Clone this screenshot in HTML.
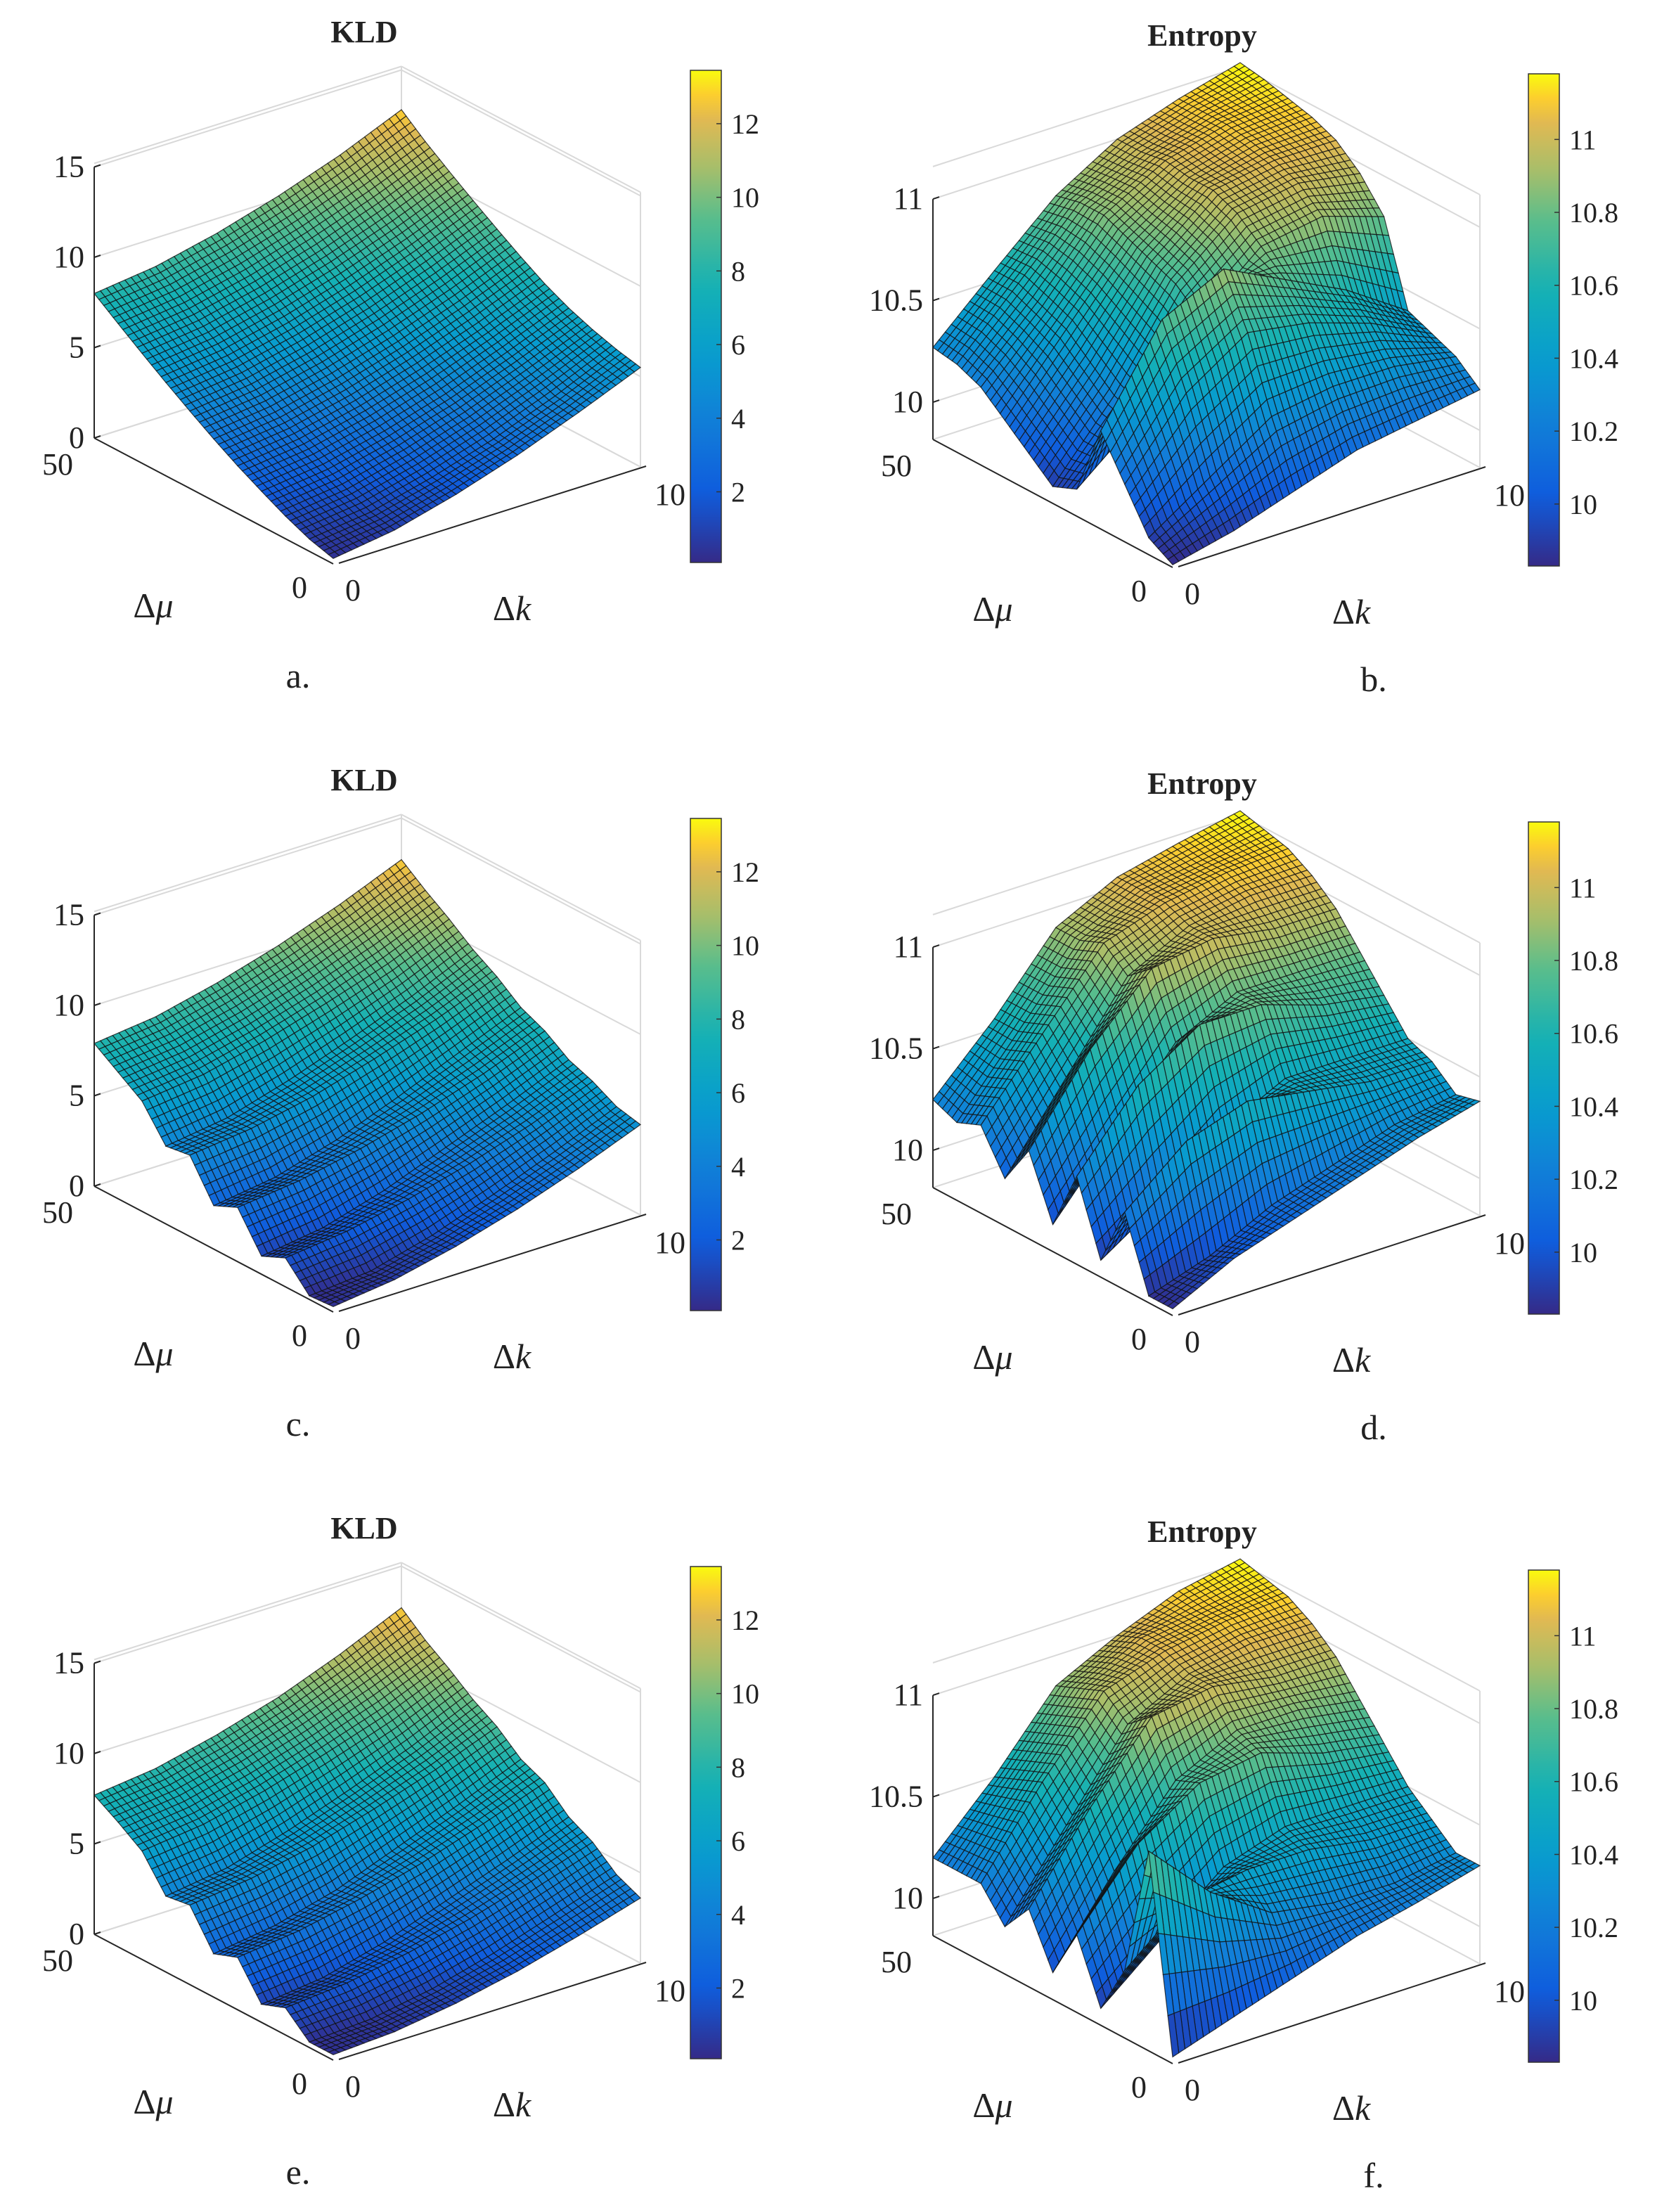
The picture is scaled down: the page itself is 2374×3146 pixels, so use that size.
<!DOCTYPE html>
<html><head><meta charset="utf-8">
<style>
html,body{margin:0;padding:0;background:#fff;}
svg{display:block;}
text{font-family:"Liberation Serif",serif;fill:#222;}
</style></head>
<body>
<svg id="chart" width="2374" height="3146" viewBox="0 0 2374 3146" xmlns="http://www.w3.org/2000/svg"></svg>
<script>
// ---- data (rows: Δμ = 0,5,...,50 ; columns: Δk = 0,2,...,10) ----
const muVals = [0,5,10,15,20,25,30,35,40,45,50];
const kVals = [0,2,4,6,8,10];
const kldA = [
[0.3,0.8,1.7,2.8,4.1,5.5],
[0.68,1.1,1.95,3.0,4.3,5.8],
[1.25,1.67,2.5,3.55,4.8,6.2],
[1.93,2.35,3.12,4.11,5.35,6.7],
[2.64,3.06,3.83,4.82,6.0,7.34],
[3.43,3.85,4.62,5.61,6.79,8.13],
[4.28,4.7,5.47,6.46,7.64,8.98],
[5.16,5.58,6.35,7.34,8.52,9.86],
[6.08,6.5,7.27,8.26,9.44,10.78],
[7.03,7.45,8.22,9.21,10.39,11.73],
[8.0,8.42,9.19,10.18,11.36,12.8]];
const kldC = [
[0.3,0.72,1.49,2.48,3.66,5.0],
[0.2,0.5,1.4,2.6,3.9,5.3],
[1.6,2.0,2.7,3.6,4.7,6.0],
[1.0,1.5,2.5,3.8,5.1,6.5],
[3.0,3.4,4.1,5.0,6.1,7.4],
[2.4,2.9,3.9,5.2,6.6,8.0],
[4.5,4.9,5.6,6.6,7.7,9.0],
[4.3,4.8,5.8,7.0,8.3,9.8],
[6.1,6.5,7.3,8.3,9.4,10.8],
[7.0,7.4,8.2,9.2,10.4,11.7],
[7.9,8.3,9.1,10.1,11.3,12.7]];
const kldE = [
[0.3,0.5,1.0,1.7,2.6,3.6],
[0.3,0.5,1.1,2.0,3.1,4.2],
[1.5,1.8,2.4,3.2,4.2,5.3],
[1.0,1.4,2.3,3.5,4.7,6.0],
[2.9,3.3,4.0,4.9,6.0,7.2],
[2.4,2.9,3.8,5.1,6.4,7.8],
[4.4,4.8,5.5,6.5,7.6,8.9],
[4.2,4.7,5.7,6.9,8.2,9.7],
[6.0,6.4,7.2,8.2,9.3,10.7],
[6.9,7.3,8.1,9.1,10.3,11.6],
[7.7,8.1,8.9,9.9,11.2,12.7]];
const entB = [
[9.83,9.9,10.0,10.1,10.15,10.2],
[9.9,10.1,10.3,10.35,10.35,10.3],
[10.1,10.45,10.65,10.6,10.5,10.35],
[10.3,10.75,10.9,10.75,10.6,10.4],
[9.95,10.2,10.6,10.85,10.9,10.8],
[9.9,10.25,10.7,10.95,11.0,10.95],
[10.0,10.35,10.75,11.0,11.05,11.05],
[10.1,10.45,10.8,11.0,11.08,11.1],
[10.2,10.5,10.85,11.02,11.1,11.13],
[10.25,10.55,10.85,11.0,11.1,11.16],
[10.27,10.55,10.82,11.0,11.1,11.18]];
const entD = [
[9.85,10.0,10.1,10.2,10.3,10.38],
[9.85,9.95,10.1,10.2,10.3,10.35],
[10.2,10.45,10.55,10.5,10.45,10.45],
[9.9,10.1,10.35,10.5,10.5,10.5],
[10.25,10.6,10.8,10.8,10.7,10.65],
[9.95,10.3,10.65,10.8,10.8,10.8],
[10.25,10.65,10.95,11.0,10.95,10.95],
[10.05,10.45,10.85,11.0,11.05,11.05],
[10.25,10.6,10.95,11.05,11.1,11.12],
[10.2,10.55,10.9,11.05,11.1,11.15],
[10.25,10.55,10.9,11.05,11.12,11.18]];
const entF = [
[9.85,9.95,10.05,10.15,10.22,10.3],
[10.8,10.5,10.3,10.25,10.25,10.3],
[10.15,10.4,10.45,10.45,10.4,10.4],
[9.9,10.15,10.4,10.5,10.5,10.5],
[10.2,10.55,10.75,10.8,10.7,10.65],
[9.95,10.35,10.7,10.85,10.85,10.8],
[10.2,10.6,10.95,11.0,10.95,10.95],
[10.05,10.45,10.85,11.0,11.05,11.05],
[10.2,10.6,10.95,11.05,11.1,11.12],
[10.2,10.55,10.9,11.05,11.1,11.15],
[10.2,10.5,10.85,11.0,11.12,11.18]];
const kldZTicks = [0,5,10,15];
const entZTicks = [10,10.5,11];
const kldZTickLabels = ["0","5","10","15"];
const entZTickLabels = ["10","10.5","11"];
const kldCbTicks = [2,4,6,8,10,12];
const entCbTicks = [10,10.2,10.4,10.6,10.8,11];
const entCbTickLabels = ["10","10.2","10.4","10.6","10.8","11"];
const panelLetters = ["a.","b.","c.","d.","e.","f."];

const svg = document.getElementById('chart');
const NS = 'http://www.w3.org/2000/svg';
function mk(tag, attrs, parent){const e=document.createElementNS(NS,tag);for(const k in attrs)e.setAttribute(k,attrs[k]);(parent||svg).appendChild(e);return e;}

const PAR=[[0,53,42,135],[0.14,15,92,221],[0.28,18,125,216],[0.42,7,156,207],[0.56,21,177,180],[0.7,89,189,140],[0.8,165,190,107],[0.9,225,185,82],[0.95,252,206,46],[1,249,251,14]];
function parula(t){t=Math.max(0,Math.min(1,t));for(let i=1;i<PAR.length;i++){if(t<=PAR[i][0]){const a=PAR[i-1],b=PAR[i];const f=(t-a[0])/(b[0]-a[0]);return 'rgb('+[1,2,3].map(j=>Math.round(a[j]+(b[j]-a[j])*f)).join(',')+')';}}return 'rgb(249,251,14)';}

const KLDCFG={mv:[-340,-179],kv:[437,-138],zs:25.7,zf:0,zt:15.2,cmin:0.08,cmax:13.45,zt_:kldZTicks,ztl:kldZTickLabels};
const ENTCFG={mv:[-341,-182],kv:[437,-142],zs:289,zf:9.817,zt:11.16,cmin:9.83,cmax:11.18,zt_:entZTicks,ztl:entZTickLabels};

function panel(idx, data, cfg, ox, oy, title, cbx, cbTicks, cbLabels){
  const g=mk('g',{});
  
  
  const P=(mu,k,z)=>[ox+mu/50*cfg.mv[0]+k/10*cfg.kv[0], oy+mu/50*cfg.mv[1]+k/10*cfg.kv[1]-(z-cfg.zf)*cfg.zs];
  const ln=(a,b,st,w,name)=>{const l=mk('line',{x1:a[0],y1:a[1],x2:b[0],y2:b[1],stroke:st,'stroke-width':w},g);return l;};
  const grey='#d9d9d9';
  const zlist=cfg.zt_.concat([cfg.zf,cfg.zt]);
  zlist.forEach(z=>{ln(P(50,0,z),P(50,10,z),grey,2,'grid-line');ln(P(50,10,z),P(0,10,z),grey,2,'grid-line');});
  ln(P(50,10,cfg.zf),P(50,10,cfg.zt),grey,2,'grid-line');
  ln(P(0,10,cfg.zf),P(0,10,cfg.zt),grey,2,'grid-line');
  const nm=muVals.length, nk=kVals.length, SM=5, SK=10;
  const val=(fm,fk)=>{const i=Math.min(Math.floor(fm),nm-2), j=Math.min(Math.floor(fk),nk-2);const a=fm-i,b=fk-j;
    return data[i][j]*(1-a)*(1-b)+data[i+1][j]*a*(1-b)+data[i][j+1]*(1-a)*b+data[i+1][j+1]*a*b;};
  const muAt=fm=>{const i=Math.min(Math.floor(fm),nm-2);return muVals[i]+(muVals[i+1]-muVals[i])*(fm-i);};
  const kAt=fk=>{const j=Math.min(Math.floor(fk),nk-2);return kVals[j]+(kVals[j+1]-kVals[j])*(fk-j);};
  const quads=[];
  const NM=(nm-1)*SM, NK=(nk-1)*SK;
  for(let a=0;a<NM;a++)for(let b=0;b<NK;b++){
    const pts=[[a,b],[a+1,b],[a+1,b+1],[a,b+1]].map(([u,v])=>{const fm=u/SM,fk=v/SK;return [muAt(fm),kAt(fk),val(fm,fk)];});
    const zm=(pts[0][2]+pts[1][2]+pts[2][2]+pts[3][2])/4;
    quads.push({pts,zm,d:(a+0.5)/NM+(b+0.5)/NK});
  }
  quads.sort((p,q)=>q.d-p.d);
  const sg=mk('g',{stroke:'#111','stroke-width':1.2,'stroke-opacity':0.8},g);
  
  
  quads.forEach(q=>{
    const s=q.pts.map(p=>P(p[0],p[1],p[2]).map(v=>v.toFixed(1)).join(',')).join(' ');
    const pg=mk('polygon',{points:s,fill:parula((q.zm-cfg.cmin)/(cfg.cmax-cfg.cmin))},sg);
    
    
  });
  ln(P(50,0,cfg.zf),P(50,0,cfg.zt_[cfg.zt_.length-1]),'#262626',2,'z-axis');
  ln(P(50,0,cfg.zf),P(0,0,cfg.zf),'#262626',2,'mu-axis');
  const o=P(0,0,cfg.zf);
  ln([o[0]+8,o[1]-1],[P(0,10,cfg.zf)[0]+8,P(0,10,cfg.zf)[1]-1],'#262626',2,'k-axis');
  cfg.zt_.forEach((z,i)=>{const p=P(50,0,z);ln(p,[p[0]+9,p[1]-3],'#262626',2,'z-tick');
    const t=mk('text',{x:p[0]-14,y:p[1]+14,'font-size':44,'text-anchor':'end'},g);t.textContent=cfg.ztl[i];
    });
  const lc=P(50,0,cfg.zf), rc=P(0,10,cfg.zf);
  const tx=(x,y,s,name,fs,anchor,style)=>{const t=mk('text',{x:x,y:y,'font-size':fs||44,'text-anchor':anchor||'middle'},g);if(style)t.setAttribute('font-style',style);t.textContent=s;return t;};
  tx(lc[0]-52,lc[1]+52,'50','mu-tick-label');
  tx(o[0]-48,o[1]+48,'0','mu-tick-label');
  tx(o[0]+28,o[1]+52,'0','k-tick-label');
  tx(rc[0]+42,rc[1]+54,'10','k-tick-label');
  const ml=tx(o[0]-256,o[1]+76,'Δ','mu-axis-title',50);const ms=mk('tspan',{'font-style':'italic'},ml);ms.textContent='μ';
  const kl=tx(o[0]+254,o[1]+80,'Δ','k-axis-title',50);const ks=mk('tspan',{'font-style':'italic'},kl);ks.textContent='k';
  const tt=tx(title==='KLD'?ox+44:ox+42,oy-742,title,'panel-title',44);tt.setAttribute('font-weight','bold');
  const cy0=oy-702, cy1=oy-2, cw=44;
  const defs=mk('defs',{},g);
  const gid='cbg'+idx;
  const lg=mk('linearGradient',{id:gid,x1:0,y1:1,x2:0,y2:0},defs);
  for(let s=0;s<=20;s++){mk('stop',{offset:s/20,'stop-color':parula(s/20)},lg);}
  const cb=mk('rect',{x:cbx,y:cy0,width:cw,height:cy1-cy0,fill:'url(#'+gid+')',stroke:'#333','stroke-width':1.5},g);
  
  cbTicks.forEach((v,i)=>{const y=cy1-(v-cfg.cmin)/(cfg.cmax-cfg.cmin)*(cy1-cy0);
    ln([cbx+cw-7,y],[cbx+cw,y],'#333',1.5,'colorbar-tick');
    const t=mk('text',{x:cbx+cw+14,y:y+14,'font-size':40},g);t.textContent=cbLabels[i];
    });
  const L=mk('text',{x:title==='KLD'?ox-50:ox+286,y:oy+176,'font-size':50,'text-anchor':'middle'},g);
  L.textContent=panelLetters[idx];
  
}
const kldLabels=kldCbTicks.map(String);
const ROW=1064;
panel(0,kldA,KLDCFG,474,802,'KLD',982,kldCbTicks,kldLabels);
panel(1,entB,ENTCFG,1668,807,'Entropy',2174,entCbTicks,entCbTickLabels);
panel(2,kldC,KLDCFG,474,802+ROW,'KLD',982,kldCbTicks,kldLabels);
panel(3,entD,ENTCFG,1668,807+ROW,'Entropy',2174,entCbTicks,entCbTickLabels);
panel(4,kldE,KLDCFG,474,802+2*ROW,'KLD',982,kldCbTicks,kldLabels);
panel(5,entF,ENTCFG,1668,807+2*ROW,'Entropy',2174,entCbTicks,entCbTickLabels);
</script>
</body></html>
